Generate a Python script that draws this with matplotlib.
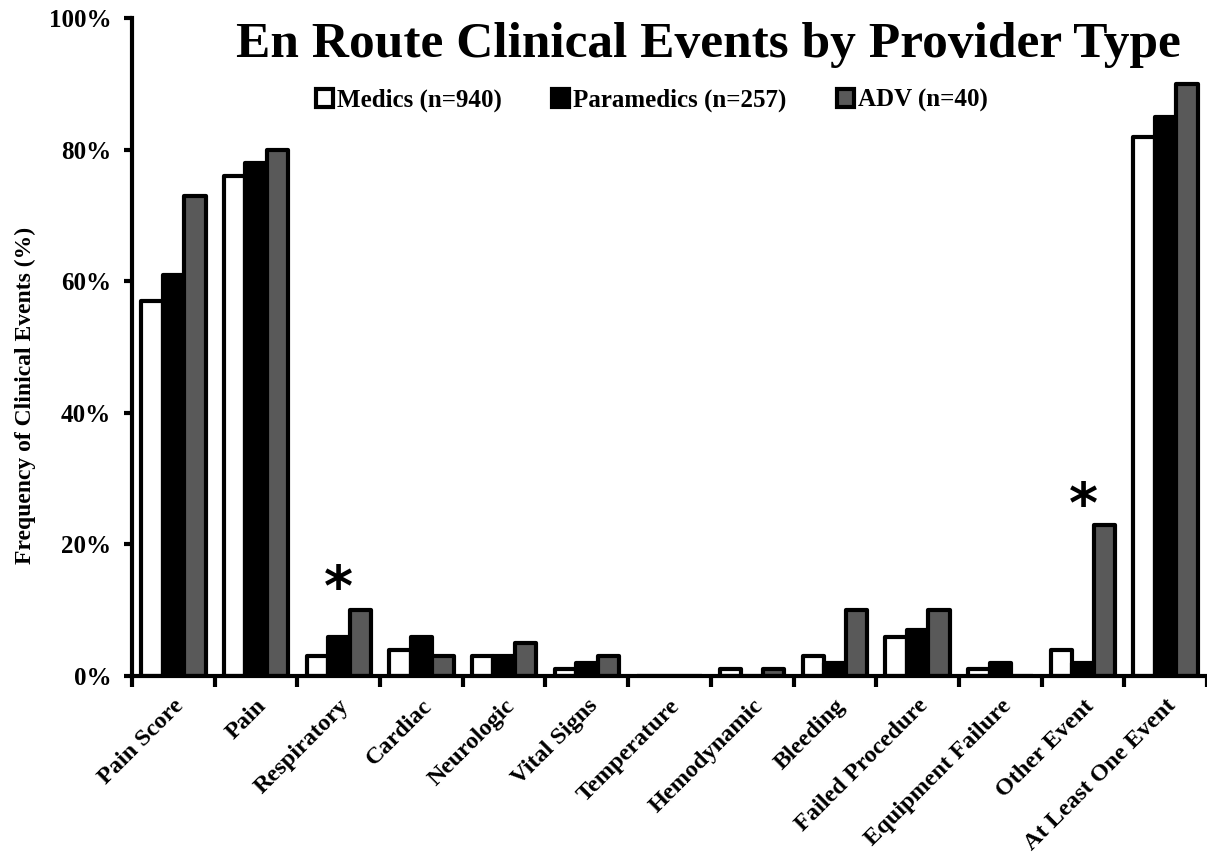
import numpy as np
import matplotlib.pyplot as plt
from matplotlib.ticker import FuncFormatter, FixedLocator

plt.rcParams['font.family'] = ['Liberation Serif', 'DejaVu Serif']
plt.rcParams['font.weight'] = 'bold'

categories = ['Pain Score', 'Pain', 'Respiratory', 'Cardiac', 'Neurologic', 'Vital Signs',
              'Temperature', 'Hemodynamic', 'Bleeding', 'Failed Procedure',
              'Equipment Failure', 'Other Event', 'At Least One Event']
medics = [57, 76, 3, 4, 3, 1, 0, 1, 3, 6, 1, 4, 82]
paramedics = [61, 78, 6, 6, 3, 2, 0, 0, 2, 7, 2, 2, 85]
adv = [73, 80, 10, 3, 5, 3, 0, 1, 10, 10, 0, 23, 90]
series_names = ['Medics (n=940)', 'Paramedics (n=257)', 'ADV (n=40)']
star_cats = ['Respiratory', 'Other Event']
star_y = [13, 25.7]

fig = plt.figure(figsize=(12.07, 8.67), dpi=100)
ax = fig.add_axes([0.1094, 0.2203, 0.8906, 0.7587])

x = np.arange(len(categories))
w = 0.26
colors = ['white', 'black', '#595959']
for i, (vals, col, name) in enumerate(zip([medics, paramedics, adv], colors, series_names)):
    ax.bar(x + (i - 1) * w, vals, w, color=col, edgecolor='black', linewidth=3,
           joinstyle='round', label=name, zorder=2)

for c, yv in zip(star_cats, star_y):
    ax.text(categories.index(c), yv, '*', ha='center', va='center', fontsize=40,
            family='DejaVu Sans', fontweight='bold')

ax.set_xlim(-0.5, len(categories) - 0.5)
ax.set_ylim(0, 100)
ax.yaxis.set_major_locator(FixedLocator([0, 20, 40, 60, 80, 100]))
ax.yaxis.set_major_formatter(FuncFormatter(lambda v, p: f'{v:.0f}%'))
ax.tick_params(axis='y', labelsize=18, width=3, length=6, direction='out', pad=9)
ax.set_xticks(x)
ax.set_xticklabels(categories, rotation=45, ha='right', rotation_mode='anchor', fontsize=17.5)
ax.tick_params(axis='x', which='major', length=0, pad=14)
ax.set_xticks(np.arange(-0.5, len(categories) + 0.5, 1), minor=True)
ax.tick_params(axis='x', which='minor', length=8, width=3, direction='out')

for s in ['top', 'right']:
    ax.spines[s].set_visible(False)
ax.spines['left'].set_linewidth(3)
ax.spines['bottom'].set_linewidth(3)

ax.set_ylabel('Frequency of Clinical Events (%)', fontsize=17, fontweight='bold')
ax.yaxis.set_label_coords(-96 / 1075, 0.427)
fig.text(0.587, 0.948, 'En Route Clinical Events by Provider Type', ha='center', va='center',
         fontsize=37, fontweight='bold')
ax.legend(loc='center', bbox_to_anchor=(0.54, 0.884), bbox_transform=fig.transFigure,
          ncol=3, frameon=False, fontsize=18, handlelength=0.7, handleheight=0.7,
          handletextpad=0.15, columnspacing=2.0)

fig.savefig('out.png', dpi=100)
